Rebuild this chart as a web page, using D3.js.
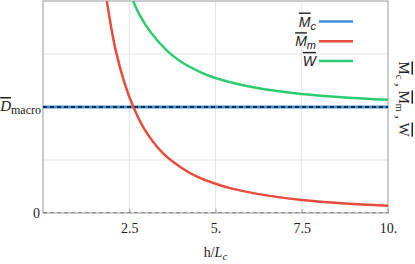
<!DOCTYPE html>
<html>
<head>
<meta charset="utf-8">
<script src="https://cdn.jsdelivr.net/npm/d3@7"></script>
<style>
  body { margin: 0; background: #fff; }
  .serif { font-family: "Liberation Serif", "DejaVu Serif", serif; }
  .ol { text-decoration: overline; }
</style>
</head>
<body>
<div id="chart"></div>
<script>
// values (h / L_c on x)
const mmH = [1.85, 2.09, 2.35, 2.62, 2.97, 3.49, 4.0, 4.48, 5.0, 5.45, 6.25, 7.5, 8.75, 10];
const mmVals = [2.0, 1.56, 1.24, 1.0, 0.775, 0.56, 0.43, 0.34, 0.276, 0.232, 0.178, 0.123, 0.09, 0.069];
const wH = [2.61, 2.8, 3.11, 3.6, 3.98, 4.56, 5.0, 6.25, 7.5, 8.75, 10];
const wVals = [2.0, 1.87, 1.71, 1.53, 1.432, 1.33, 1.274, 1.176, 1.123, 1.09, 1.068];
const mcH = [0, 10];
const mcVals = [1, 1];
const dMacro = 1;
const xTicks = [2.5, 5, 7.5, 10];
const xTickLabels = ["2.5", "5.", "7.5", "10."];
const gridX = [2.5, 5, 7.5];
const gridY = [0.5, 1, 1.5];

const W = 415, H = 264;
const margin = { top: 1, right: 27, bottom: 51, left: 43 };
const width = W - margin.left - margin.right;
const height = H - margin.top - margin.bottom;

const colors = { mc: "#3b8fd9", mm: "#e74c3c", w: "#2ecc71" };

const svg = d3.select("#chart").append("svg")
    .attr("width", W).attr("height", H);

const g = svg.append("g")
    .attr("transform", `translate(${margin.left},${margin.top})`);

const x = d3.scaleLinear().domain([0, 10]).range([0, width]);
const y = d3.scaleLinear().domain([0, 2]).range([height, 0]);

g.append("clipPath").attr("id", "clip")
    .append("rect").attr("width", width).attr("height", height);

// grid
g.selectAll(".gx").data(gridX).enter().append("line")
    .attr("x1", d => x(d)).attr("x2", d => x(d))
    .attr("y1", 0).attr("y2", height)
    .attr("stroke", "#e3e3e3").attr("stroke-width", 1);
g.selectAll(".gy").data(gridY).enter().append("line")
    .attr("x1", 0).attr("x2", width)
    .attr("y1", d => y(d)).attr("y2", d => y(d))
    .attr("stroke", "#e3e3e3").attr("stroke-width", 1);

// frame
g.append("rect").attr("width", width).attr("height", height)
    .attr("fill", "none").attr("stroke", "#999").attr("stroke-width", 1);

// bottom axis
const xAxis = g.append("g")
    .attr("transform", `translate(0,${height})`)
    .call(d3.axisBottom(x).tickValues(xTicks).tickSize(-4).tickPadding(10)
        .tickFormat((d, i) => xTickLabels[i]));
xAxis.select(".domain").remove();
xAxis.selectAll("line").attr("stroke", "#999");
xAxis.selectAll("text").attr("class", "serif").attr("font-size", 14).attr("fill", "#222");

// left ticks
g.selectAll(".ly").data([0, dMacro]).enter().append("line")
    .attr("x1", 0).attr("x2", 4)
    .attr("y1", d => y(d)).attr("y2", d => y(d))
    .attr("stroke", "#999");

const line = d3.line().x(d => x(d[0])).y(d => y(d[1])).curve(d3.curveCatmullRom.alpha(0.5));
const plot = g.append("g").attr("clip-path", "url(#clip)");

// zero dashed line
plot.append("line")
    .attr("x1", 0).attr("x2", width)
    .attr("y1", y(0)).attr("y2", y(0))
    .attr("stroke", "#777").attr("stroke-width", 1.6)
    .attr("stroke-dasharray", "4,3");

// M_c
plot.append("path").datum(mcH.map((h, i) => [h, mcVals[i]]))
    .attr("d", line).attr("fill", "none")
    .attr("stroke", colors.mc).attr("stroke-width", 3);
// D_macro dashed
plot.append("line")
    .attr("x1", 0).attr("x2", width)
    .attr("y1", y(dMacro)).attr("y2", y(dMacro))
    .attr("stroke", "#111").attr("stroke-width", 1.4)
    .attr("stroke-dasharray", "4,3");
// M_m
plot.append("path").datum(mmH.map((h, i) => [h, mmVals[i]]))
    .attr("d", line).attr("fill", "none")
    .attr("stroke", colors.mm).attr("stroke-width", 2.5);
// W
plot.append("path").datum(wH.map((h, i) => [h, wVals[i]]))
    .attr("d", line).attr("fill", "none")
    .attr("stroke", colors.w).attr("stroke-width", 2.5);

// left labels
const dl = svg.append("text").attr("class", "serif")
    .attr("x", 41).attr("y", margin.top + y(dMacro) + 4)
    .attr("text-anchor", "end").attr("font-size", 15).attr("fill", "#222");
dl.append("tspan").attr("class", "ol").attr("font-style", "italic").text("D");
dl.append("tspan").attr("font-size", 12).attr("dy", 3).text("macro");

svg.append("text").attr("class", "serif")
    .attr("x", 40).attr("y", margin.top + y(0) + 5)
    .attr("text-anchor", "end").attr("font-size", 14).attr("fill", "#222")
    .text("0");

// x label
const xl = svg.append("text").attr("class", "serif")
    .attr("x", margin.left + x(5)).attr("y", 257)
    .attr("text-anchor", "middle").attr("font-size", 14).attr("fill", "#222");
xl.append("tspan").text("h/");
xl.append("tspan").attr("font-style", "italic").text("L");
xl.append("tspan").attr("font-style", "italic").attr("font-size", 11).attr("dy", 3).text("c");

// right label, rotated
const rl = svg.append("text").attr("class", "serif")
    .attr("transform", `translate(399,99) rotate(90)`)
    .attr("text-anchor", "middle").attr("font-size", 15).attr("fill", "#222");
[["M", "c"], ["M", "m"], ["W", null]].forEach((p, i) => {
    rl.append("tspan").attr("class", "ol").attr("dy", i === 0 ? 0 : -3).text(p[0]);
    if (p[1]) rl.append("tspan").attr("font-size", 10).attr("dy", 3).text(p[1]);
    else rl.append("tspan").attr("dy", 3).text("");
    if (i < 2) rl.append("tspan").text(" , ");
});

// legend
const legendItems = [
    { key: "mc", base: "M", sub: "c" },
    { key: "mm", base: "M", sub: "m" },
    { key: "w", base: "W", sub: null }
];
const legend = svg.selectAll(".legend").data(legendItems).enter().append("g")
    .attr("transform", (d, i) => `translate(0,${21.5 + i * 19.7})`);
legend.append("line")
    .attr("x1", 319).attr("x2", 353)
    .attr("stroke", d => colors[d.key]).attr("stroke-width", 2.5);
const lt = legend.append("text")
    .attr("x", 316).attr("y", 5).attr("text-anchor", "end")
    .attr("font-family", "'Liberation Sans', Arial, sans-serif")
    .attr("font-style", "italic").attr("font-size", 14).attr("fill", "#222");
lt.append("tspan").attr("class", "ol").text(d => d.base);
lt.filter(d => d.sub).append("tspan").attr("font-size", 11).attr("dy", 3).text(d => d.sub);
</script>
</body>
</html>
